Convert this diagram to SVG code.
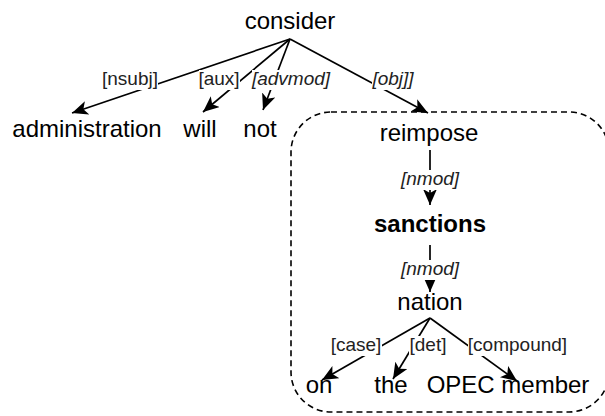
<svg xmlns="http://www.w3.org/2000/svg" width="605" height="416" viewBox="0 0 605 416">
  <style>
    .w { font-family: "Liberation Sans", Arial, sans-serif; font-size: 24px; fill: #000; text-anchor: middle; }
    .b { font-weight: bold; }
    .lab { font-family: "Liberation Sans", Arial, sans-serif; font-size: 19px; fill: #222; text-anchor: middle; }
    .it { font-style: italic; }
    .edge { stroke: #000; stroke-width: 1.7; fill: none; marker-end: url(#arr); }
    .bg { fill: #fff; }
    .box { fill: none; stroke: #000; stroke-width: 1.6; stroke-dasharray: 6 4; }
  </style>
  <defs>
    <marker id="arr" markerUnits="userSpaceOnUse" markerWidth="17" markerHeight="15" refX="16" refY="7" orient="auto">
      <path d="M0,0 L16,7 L0,14 L4,7 Z" fill="#000"/>
    </marker>
  </defs>
  <rect width="605" height="416" fill="#fff"/>

  <g id="group-box">
    <rect class="box" x="291" y="112" width="318" height="300" rx="40" ry="40"/>
  </g>

  <g id="connectors">
    <line class="edge" x1="290" y1="39" x2="72" y2="113"/>
    <line class="edge" x1="290" y1="39" x2="203" y2="112"/>
    <line class="edge" x1="290" y1="39" x2="263" y2="110"/>
    <line class="edge" x1="290" y1="39" x2="428" y2="113"/>
    <line class="edge" x1="430" y1="150" x2="430" y2="205"/>
    <line class="edge" x1="430" y1="245" x2="430" y2="292"/>
    <line class="edge" x1="430" y1="318" x2="322" y2="380"/>
    <line class="edge" x1="430" y1="318" x2="393" y2="379"/>
    <line class="edge" x1="430" y1="318" x2="517" y2="381"/>

    <rect class="bg" x="102" y="70" width="56" height="20"/>
    <text class="lab" x="130" y="85">[nsubj]</text>
    <rect class="bg" x="199" y="70" width="41" height="20"/>
    <text class="lab" x="219" y="85">[aux]</text>
    <rect class="bg" x="252" y="70" width="79" height="20"/>
    <text class="lab it" x="291" y="85">[advmod]</text>
    <rect class="bg" x="372" y="70" width="43" height="20"/>
    <text class="lab it" x="393" y="85">[obj]]</text>
    <rect class="bg" x="401" y="170" width="58" height="20"/>
    <text class="lab it" x="430" y="185">[nmod]</text>
    <rect class="bg" x="401" y="260" width="58" height="20"/>
    <text class="lab it" x="430" y="275">[nmod]</text>
    <rect class="bg" x="331" y="336" width="51" height="20"/>
    <text class="lab" x="356" y="351">[case]</text>
    <rect class="bg" x="409" y="336" width="38" height="20"/>
    <text class="lab" x="428" y="351">[det]</text>
    <rect class="bg" x="468" y="336" width="100" height="20"/>
    <text class="lab" x="517.5" y="351">[compound]</text>
  </g>

  <g id="node-consider"><text class="w" x="290" y="29">consider</text></g>
  <g id="node-administration"><text class="w" x="87" y="137">administration</text></g>
  <g id="node-will"><text class="w" x="200" y="137">will</text></g>
  <g id="node-not"><text class="w" x="260" y="137">not</text></g>
  <g id="node-reimpose"><text class="w" x="429" y="141">reimpose</text></g>
  <g id="node-sanctions"><text class="w b" x="430" y="232">sanctions</text></g>
  <g id="node-nation"><text class="w" x="430" y="310">nation</text></g>
  <g id="node-on"><text class="w" x="319" y="393">on</text></g>
  <g id="node-the"><text class="w" x="391" y="393">the</text></g>
  <g id="node-opec-member"><text class="w" x="508" y="393">OPEC member</text></g>
</svg>
